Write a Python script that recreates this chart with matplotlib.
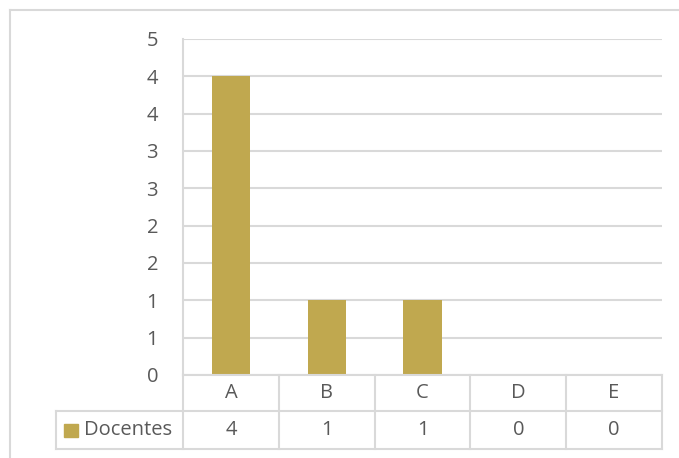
import numpy as np
import matplotlib.pyplot as plt
from matplotlib.lines import Line2D
from matplotlib.patches import Rectangle

categories = ["A", "B", "C", "D", "E"]
docentes = [4, 1, 1, 0, 0]
series_name = "Docentes"
y_ticks = np.arange(0, 4.51, 0.5)
y_labels = [str(int(np.floor(v + 0.5))) for v in y_ticks]

bar_color = "#C0A84F"
grid_color = "#D9D9D9"
text_color = "#595959"

W, H = 679, 458
plt.rcParams["font.family"] = ["Open Sans", "DejaVu Sans"]
fs = 14.5

fig = plt.figure(figsize=(W / 100, H / 100), dpi=100)

def fx(px):
    return px / W

def fy(py):
    return 1 - py / H

# plot area in pixels
left, right, top, bottom = 183, 662, 39, 375
row1, row2 = 411, 449
ax = fig.add_axes([fx(left), fy(bottom), fx(right - left), (bottom - top) / H])

x = np.arange(len(categories))
ax.bar(x, docentes, width=0.4, color=bar_color, zorder=3)
ax.set_xlim(-0.5, len(categories) - 0.5)
ax.set_ylim(0, 4.5)
ax.set_yticks(y_ticks)
ax.set_yticklabels(y_labels, color=text_color, fontsize=fs)
ax.tick_params(axis="y", length=0, pad=18)
ax.set_xticks([])
ax.yaxis.grid(True, color=grid_color, linewidth=1.5, zorder=0)
for s in ["top", "right", "bottom"]:
    ax.spines[s].set_visible(False)
ax.spines["left"].set_color(grid_color)
ax.spines["left"].set_linewidth(1.5)

# outer chart border
fig.add_artist(Line2D([fx(10), fx(10)], [fy(10), 0], color=grid_color, lw=1.5))
fig.add_artist(Line2D([fx(10), 1], [fy(10), fy(10)], color=grid_color, lw=1.5))

# data table
col_w = (right - left) / len(categories)
col_edges = [left + i * col_w for i in range(len(categories) + 1)]
tbl_left = 56
line_kw = dict(color=grid_color, lw=1.5)
fig.add_artist(Line2D([fx(left), fx(left)], [fy(bottom), fy(row2)], **line_kw))
for e in col_edges[1:]:
    fig.add_artist(Line2D([fx(e), fx(e)], [fy(bottom), fy(row2)], **line_kw))
fig.add_artist(Line2D([fx(tbl_left), fx(tbl_left)], [fy(row1), fy(row2)], **line_kw))
fig.add_artist(Line2D([fx(left), fx(right)], [fy(bottom), fy(bottom)], **line_kw))
fig.add_artist(Line2D([fx(tbl_left), fx(right)], [fy(row1), fy(row1)], **line_kw))
fig.add_artist(Line2D([fx(tbl_left), fx(right)], [fy(row2), fy(row2)], **line_kw))

for i, (c, v) in enumerate(zip(categories, docentes)):
    cx = (col_edges[i] + col_edges[i + 1]) / 2
    fig.text(fx(cx), fy((bottom + row1) / 2), c, ha="center", va="center",
             color=text_color, fontsize=fs)
    fig.text(fx(cx), fy((row1 + row2) / 2), str(v), ha="center", va="center",
             color=text_color, fontsize=fs)

fig.add_artist(Rectangle((fx(64), fy(437)), fx(14), 13 / H, color=bar_color))
fig.text(fx(84), fy((row1 + row2) / 2), series_name, ha="left", va="center",
         color=text_color, fontsize=fs)

fig.savefig("out.png", dpi=100)
